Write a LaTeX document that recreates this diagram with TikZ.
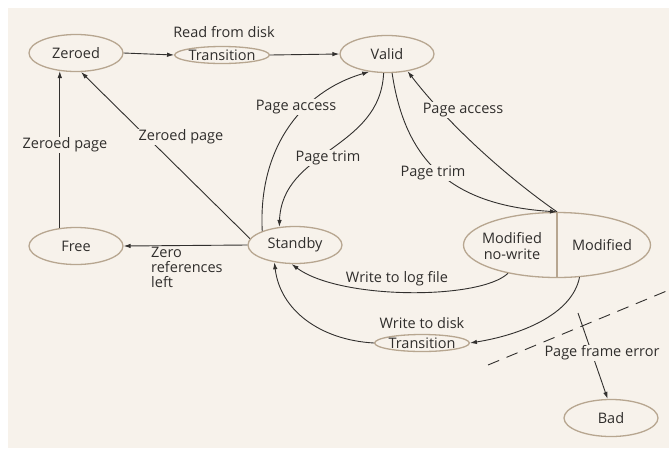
\documentclass[tikz,border=0pt]{standalone}
\usepackage{fontspec}
\setmainfont{Open Sans}
\usetikzlibrary{shapes.geometric,arrows.meta}

\definecolor{paper}{RGB}{247,242,235}
\definecolor{rim}{RGB}{183,166,144}
\definecolor{ink}{RGB}{48,46,44}
\definecolor{wire}{RGB}{50,48,46}

\tikzset{
  txt/.style={font=\fontsize{14.5}{16}\selectfont},
  state/.style={ellipse, draw=rim, line width=1.3pt, fill=paper, text=ink,
    inner sep=0pt, minimum width=94pt, minimum height=37pt, txt},
  passing/.style={state, minimum width=89pt, minimum height=17pt},
  lbl/.style={text=ink, txt, inner sep=1pt},
  cutlbl/.style={lbl, fill=paper},
  link/.style={draw=wire, line width=0.9pt, -{Latex[length=7pt,width=4.5pt]}},
  border/.style={draw=wire, line width=0.9pt, dash pattern=on 12pt off 8pt}
}

\begin{document}
\begin{tikzpicture}[x=1pt, y=-1pt]
  \useasboundingbox (0,0) rectangle (669,456);
  \fill[paper] (8,8) rectangle (669,448);

  % states
  \node[state] (zeroed) at (76,53) {Zeroed};
  \node[passing] (readtr) at (222,55) {Transition};
  \node[state] (valid) at (387,54) {Valid};
  \node[state] (free) at (76,246) {Free};
  \node[state] (standby) at (295,245) {Standby};
  \node[state, minimum width=187pt, minimum height=65pt] (mod) at (557,245) {};
  \node[passing] (writetr) at (422,343) {Transition};
  \node[state] (bad) at (611,418) {Bad};

  % split modified state
  \draw[rim, line width=1.1pt] (mod.north) -- (mod.south);
  \node[lbl, align=center, font=\fontsize{14.5}{16.5}\selectfont] (modnw) at (512,246) {Modified\\no-write};
  \node[lbl] (modw) at (602,245) {Modified};

  % labels
  \node[lbl] (readlbl) at (224,32) {Read from disk};
  \node[lbl] (disklbl) at (422,323) {Write to disk};
  \node[lbl, align=left, anchor=north west, font=\fontsize{14.5}{15}\selectfont] (zrl) at (150,246) {Zero\\references\\left};

  % transitions
  \draw[link] (zeroed.east) -- (readtr.west);
  \draw[link] (readtr.east) -- (valid.west);
  \draw[link] (free.132) -- (zeroed.228);
  \draw[link] (standby.172) -- (zeroed.-75);
  \draw[link] (standby.west) -- (free.east);
  \draw[link] (standby.157) .. controls (258,150) and (300,92) .. (valid.-135);
  \draw[link] (valid.-100) .. controls (380,150) and (282,150) .. (standby.131);
  \draw[link] (valid.-75) .. controls (405,160) and (450,205) .. (mod.north);
  \draw[link] (mod.north) .. controls (500,172) and (445,120) .. (valid.-40);
  \draw[link] (mod.-150) .. controls (480,300) and (340,300) .. (standby.-100);
  \draw[link] (mod.-55) .. controls (572,315) and (520,335) .. (writetr.east);
  \draw[link] (writetr.west) .. controls (320,340) and (280,310) .. (standby.-140);

  % labels sitting on their lines
  \node[cutlbl] (zpl) at (65,145) {Zeroed page};
  \node[cutlbl] (zpd) at (181,137) {Zeroed page};
  \node[cutlbl] (pal) at (296,107) {Page access};
  \node[cutlbl] (ptl) at (328,158) {Page trim};
  \node[cutlbl] (ptr) at (433,173) {Page trim};
  \node[cutlbl] (par) at (463,110) {Page access};
  \node[lbl] (logl) at (397,279) {Write to log file};

  % bad page boundary
  \coordinate (d1) at (488,365);
  \coordinate (d2) at (669,290);
  \draw[border] (d1) -- (d2);
  \coordinate (pfe) at (578,313);
  \draw[link] (pfe) -- (bad.100);
  \node[cutlbl] (pfl) at (602,353) {Page frame error};
\end{tikzpicture}
\end{document}
